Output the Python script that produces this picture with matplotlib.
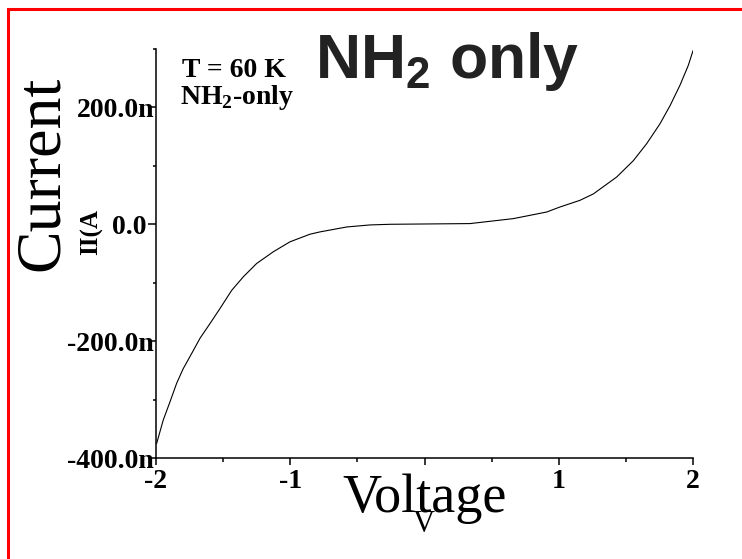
import matplotlib
matplotlib.use("Agg")
import matplotlib.pyplot as plt
from matplotlib.patches import Rectangle
from matplotlib.ticker import FixedLocator, FuncFormatter

# I-V curve (volts, nA)
volts = [-1.995, -1.946, -1.896, -1.846, -1.797, -1.734, -1.672, -1.598, -1.523,
         -1.436, -1.350, -1.250, -1.126, -1.002, -0.853, -0.778, -0.579, -0.406,
         -0.257, 0.339, 0.662, 0.91, 1.009, 1.158, 1.258, 1.432, 1.556, 1.655,
         1.754, 1.829, 1.903, 1.965, 2.0]
current_na = [-375, -335, -304, -272, -247, -221, -195, -170, -144,
              -113, -90, -67, -47, -30, -17, -13, -4.6, -1.1,
              0, 1.2, 9.7, 21, 29.6, 41, 52, 81, 109, 138,
              172, 203, 238, 272, 297]

x_major = [-2, -1, 0, 1, 2]
x_minor = [-1.5, -0.5, 0.5, 1.5]
y_major = [-400, -200, 0, 200]
y_minor = [-300, -100, 100, 300]

plt.rcParams['font.family'] = 'Liberation Serif'
plt.rcParams['axes.unicode_minus'] = False

W, H = 742, 559
fig = plt.figure(figsize=(W / 100, H / 100), dpi=100)

def fx(px):
    return px / W

def fy(py):
    return 1 - py / H

ax = fig.add_axes([fx(156), fy(458), fx(693) - fx(156), fy(49) - fy(458)])
ax.plot(volts, current_na, color='black', lw=0.8)
ax.set_xlim(-2, 2)
ax.set_ylim(-400, 300)

for s in ['top', 'right']:
    ax.spines[s].set_visible(False)
for s in ['left', 'bottom']:
    ax.spines[s].set_linewidth(1.1)

ax.xaxis.set_major_locator(FixedLocator(x_major))
ax.xaxis.set_minor_locator(FixedLocator(x_minor))
ax.yaxis.set_major_locator(FixedLocator(y_major))
ax.yaxis.set_minor_locator(FixedLocator(y_minor))
ax.xaxis.set_major_formatter(FuncFormatter(lambda v, p: f"{v:g}"))
ax.yaxis.set_major_formatter(FuncFormatter(lambda v, p: "0.0 " if v == 0 else f"{v:.1f}n"))

ax.tick_params(axis='x', which='major', length=5, width=1.1, labelsize=20, pad=3)
ax.tick_params(axis='x', which='minor', length=2.8, width=1.1)
ax.tick_params(axis='y', which='major', length=5.8, width=1.1, labelsize=20, pad=-4.3)
ax.tick_params(axis='y', which='minor', length=2.5, width=1.1)
for lab in ax.get_xticklabels() + ax.get_yticklabels():
    lab.set_fontweight('bold')

# red frame running off the right and bottom edges
fig.patches.append(Rectangle((fx(8), -0.5), 2, fy(9) + 0.5, transform=fig.transFigure,
                             fill=False, edgecolor='red', lw=2.2))

fig.text(fx(315), fy(78), r"NH$_\mathregular{2}$ only", family='Liberation Sans',
         weight='bold', fontsize=45, color='#222222', ha='left', va='baseline')
fig.text(fx(182), fy(77), "T = 60 K", weight='bold', fontsize=20, ha='left', va='baseline')
fig.text(fx(180), fy(104), r"NH$_\mathregular{2}$-only", weight='bold', fontsize=20,
         ha='left', va='baseline')

fig.text(fx(92), fy(232), "II(A", weight='bold', fontsize=18, rotation=90,
         ha='center', va='center')
fig.text(fx(43), fy(173), "Current", fontsize=46, rotation=90, ha='center', va='center',
         bbox=dict(facecolor='white', edgecolor='none', pad=0))
fig.text(fx(425), fy(512), "Voltage", fontsize=39, ha='center', va='baseline',
         bbox=dict(facecolor='white', edgecolor='none', pad=4))
fig.text(fx(424), fy(532), "V", fontsize=22, ha='center', va='baseline')

fig.savefig("out.png", dpi=100)
